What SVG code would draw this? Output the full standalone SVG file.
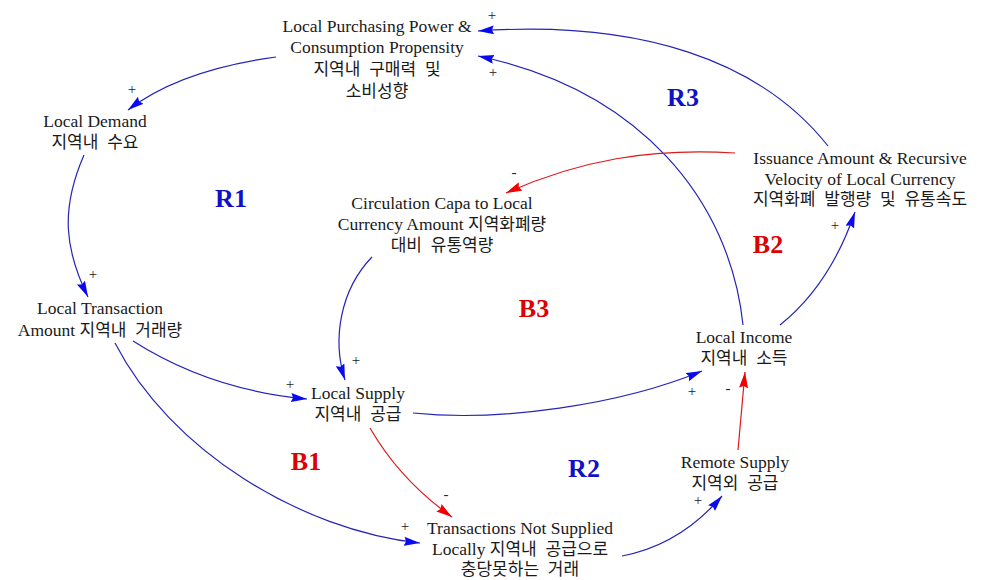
<svg xmlns="http://www.w3.org/2000/svg" width="983" height="580" viewBox="0 0 983 580">
<style>
.t{font-family:"Liberation Serif","Noto Sans CJK KR",serif;font-size:17.5px;fill:#1a1a1a;text-anchor:middle}
.k{font-family:"Noto Sans CJK KR","Liberation Sans",sans-serif;font-size:17px;word-spacing:5px}
.lb{font-family:"Liberation Serif",serif;font-size:26px;font-weight:bold;text-anchor:middle}
.blue{fill:#1010C8}
.red{fill:#DD0000}
.s{font-family:"Liberation Serif",serif;font-size:15px;fill:#222;text-anchor:middle}
.cb{fill:none;stroke:#2424B8;stroke-width:1.2}
.cr{fill:none;stroke:#E01818;stroke-width:1.2}
</style>
<defs>
<marker id="ab" markerUnits="userSpaceOnUse" markerWidth="18" markerHeight="10" refX="16" refY="4.5" orient="auto">
<path d="M0,0 L16,4.5 L0,9 L2,4.5 Z" fill="#0A0AF0"/>
</marker>
<marker id="ar" markerUnits="userSpaceOnUse" markerWidth="18" markerHeight="10" refX="16" refY="4.5" orient="auto">
<path d="M0,0 L16,4.5 L0,9 L2,4.5 Z" fill="#F00000"/>
</marker>
</defs>
<rect width="983" height="580" fill="#ffffff"/>

<g id="connectors">
<path class="cb" d="M276,57 Q180,70 128,110" marker-end="url(#ab)"/>
<path class="cb" d="M84,155 C60,210 65,250 88,297" marker-end="url(#ab)"/>
<path class="cb" d="M133,341 Q210,390 307,399" marker-end="url(#ab)"/>
<path class="cb" d="M115,343 C170,450 300,530 420,543" marker-end="url(#ab)"/>
<path class="cb" d="M372,257 C340,290 332,340 345,380" marker-end="url(#ab)"/>
<path class="cb" d="M413,413 C500,422 620,405 702,371" marker-end="url(#ab)"/>
<path class="cr" d="M738,450 L745,372" marker-end="url(#ar)"/>
<path class="cr" d="M370,428 Q400,480 452,517" marker-end="url(#ar)"/>
<path class="cb" d="M622,556 Q680,545 722,496" marker-end="url(#ab)"/>
<path class="cb" d="M780,325 Q830,285 855,212" marker-end="url(#ab)"/>
<path class="cb" d="M743,325 C730,200 640,90 478,56" marker-end="url(#ab)"/>
<path class="cb" d="M828,146 C760,60 640,20 478,31" marker-end="url(#ab)"/>
<path class="cr" d="M735,153 C650,148 580,160 506,193" marker-end="url(#ar)"/>
</g>

<g id="polarity">
<text class="s" x="132" y="94">+</text>
<text class="s" x="93" y="279">+</text>
<text class="s" x="290" y="389">+</text>
<text class="s" x="405" y="531">+</text>
<text class="s" x="356" y="365">+</text>
<text class="s" x="692" y="396">+</text>
<text class="s" x="728" y="393">-</text>
<text class="s" x="446" y="499">-</text>
<text class="s" x="698" y="505">+</text>
<text class="s" x="835" y="230">+</text>
<text class="s" x="493" y="77">+</text>
<text class="s" x="492" y="20">+</text>
<text class="s" x="514" y="177">-</text>
</g>

<g id="loops">
<text class="lb blue" x="231" y="207">R1</text>
<text class="lb blue" x="683" y="106">R3</text>
<text class="lb red" x="768" y="253">B2</text>
<text class="lb red" x="534" y="317">B3</text>
<text class="lb blue" x="584" y="477">R2</text>
<text class="lb red" x="306" y="470">B1</text>
</g>

<g id="node-purchasing">
<text class="t"><tspan x="377" y="32">Local Purchasing Power &amp;</tspan><tspan x="377" y="53">Consumption Propensity</tspan><tspan x="377" y="75" class="k">지역내 구매력 및</tspan><tspan x="377" y="97" class="k">소비성향</tspan></text>
</g>
<g id="node-demand">
<text class="t"><tspan x="95" y="127">Local Demand</tspan><tspan x="95" y="148" class="k">지역내 수요</tspan></text>
</g>
<g id="node-circulation">
<text class="t"><tspan x="442" y="209">Circulation Capa to Local</tspan><tspan x="442" y="230">Currency Amount <tspan class="k">지역화폐량</tspan></tspan><tspan x="442" y="251" class="k">대비 유통역량</tspan></text>
</g>
<g id="node-issuance">
<text class="t"><tspan x="860" y="164">Issuance Amount &amp; Recursive</tspan><tspan x="860" y="185">Velocity of Local Currency</tspan><tspan x="860" y="205" class="k">지역화폐 발행량 및 유통속도</tspan></text>
</g>
<g id="node-transaction">
<text class="t"><tspan x="100" y="314">Local Transaction</tspan><tspan x="100" y="336">Amount <tspan class="k">지역내 거래량</tspan></tspan></text>
</g>
<g id="node-supply">
<text class="t"><tspan x="358" y="399">Local Supply</tspan><tspan x="358" y="420" class="k">지역내 공급</tspan></text>
</g>
<g id="node-income">
<text class="t"><tspan x="744" y="343">Local Income</tspan><tspan x="744" y="364" class="k">지역내 소득</tspan></text>
</g>
<g id="node-remote">
<text class="t"><tspan x="735" y="468">Remote Supply</tspan><tspan x="735" y="489" class="k">지역외 공급</tspan></text>
</g>
<g id="node-notsupplied">
<text class="t"><tspan x="520" y="534">Transactions Not Supplied</tspan><tspan x="520" y="555">Locally <tspan class="k">지역내 공급으로</tspan></tspan><tspan x="520" y="575" class="k">충당못하는 거래</tspan></text>
</g>
</svg>
